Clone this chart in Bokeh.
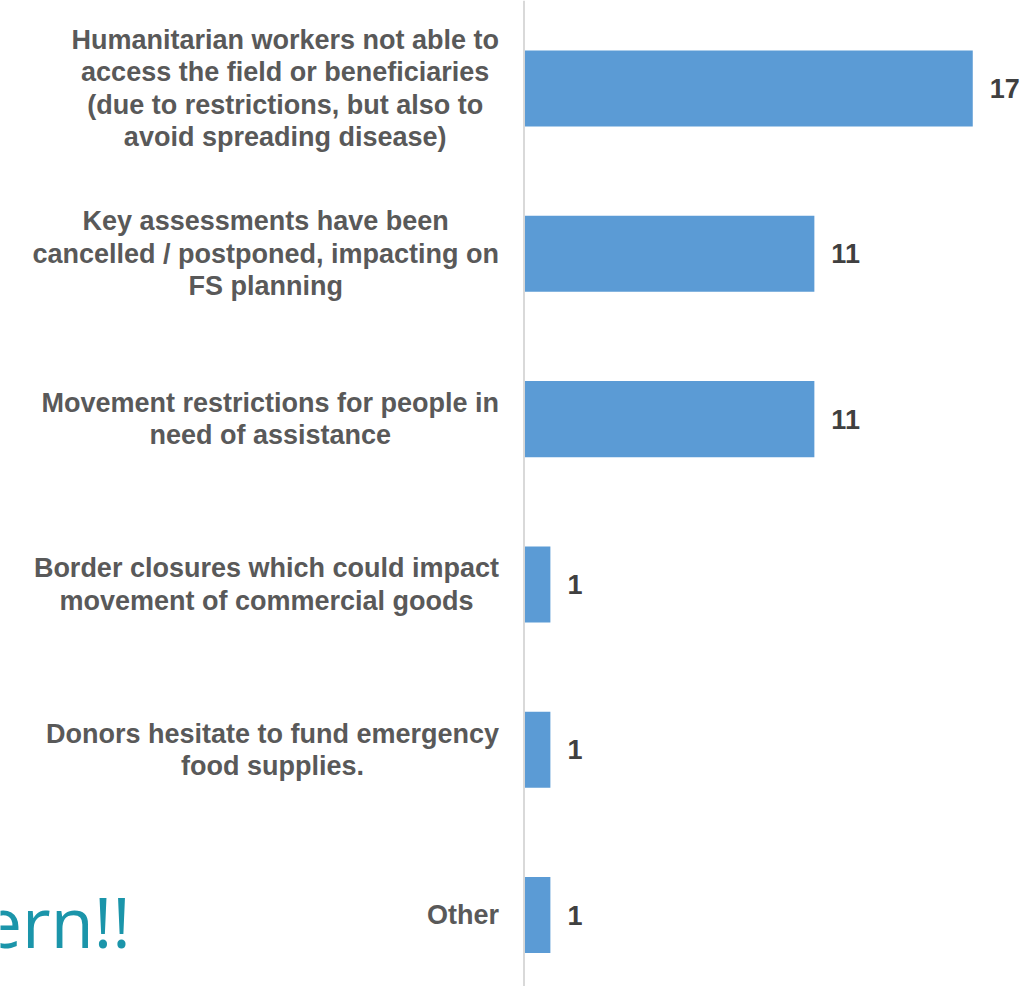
from bokeh.plotting import figure
from bokeh.models import Range1d, Span, ColumnDataSource
from bokeh.core.properties import value
from bokeh.embed import file_html
from bokeh.resources import INLINE

categories = [
    "Humanitarian workers not able to\naccess the field or beneficiaries\n(due to restrictions, but also to\navoid spreading disease)",
    "Key assessments have been\ncancelled / postponed, impacting on\nFS planning",
    "Movement restrictions for people in\nneed of assistance",
    "Border closures which could impact\nmovement of commercial goods",
    "Donors hesitate to fund emergency\nfood supplies.",
    "Other",
]
counts = [17, 11, 11, 1, 1, 1]
note_text = "ern!!"

idx = list(range(len(categories)))
src = ColumnDataSource(dict(y=idx, v=counts, cat=categories,
                            lab=[str(c) for c in counts], zero=[0] * len(counts)))

p = figure(width=1024, height=986, output_backend="svg", toolbar_location=None,
           x_range=Range1d(-19.83, 18.96), y_range=Range1d(5.432, -0.532),
           min_border=0, min_border_left=0, min_border_right=0,
           min_border_top=0, min_border_bottom=0)
p.axis.visible = False
p.grid.visible = False
p.outline_line_color = None
p.background_fill_color = "white"
p.border_fill_color = "white"

p.add_layout(Span(location=0, dimension="height", line_color="#D9D9D9", line_width=2))

p.hbar(y="y", left="zero", right="v", height=0.46, source=src,
       fill_color="#5B9BD5", line_color=None)

p.text(x="v", y="y", text="lab", source=src, x_offset=17,
       text_baseline="middle", text_align="left",
       text_font=value("Liberation Sans"), text_font_style="bold",
       text_font_size="27px", text_color="#404040")

p.text(x="zero", y="y", text="cat", source=src, x_offset=-25,
       anchor="center_right", text_align="center", text_baseline="middle",
       text_font=value("Liberation Sans"), text_font_style="bold",
       text_font_size="27px", text_color="#595959", text_line_height=1.08)

p.text(x=[-14.9], y=[5.0], text=[note_text], y_offset=6,
       text_align="right", text_baseline="alphabetic",
       text_font=value("Open Sans"), text_font_size="70px", text_color="#1B95AA")

open("out.html", "w").write(file_html(p, INLINE))
